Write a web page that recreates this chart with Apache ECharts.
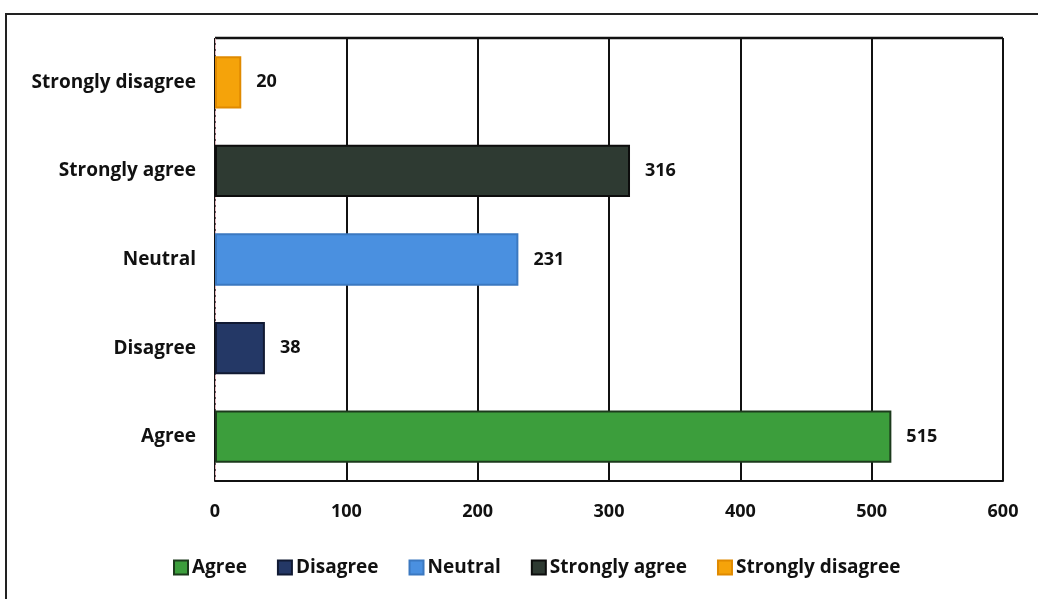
<!DOCTYPE html>
<html><head><meta charset="utf-8">
<script src="https://cdn.jsdelivr.net/npm/echarts@6/dist/echarts.min.js"></script>
<style>html,body{margin:0;padding:0;background:#fff}#c{width:1038px;height:599px}</style>
</head><body><div id="c"></div>
<script>
const categories = ['Agree', 'Disagree', 'Neutral', 'Strongly agree', 'Strongly disagree'];
const values = [515, 38, 231, 316, 20];
const xTicks = [0, 100, 200, 300, 400, 500, 600];
const colors = ['#3c9e3c', '#243866', '#4a90e0', '#2e3a32', '#f5a30a'];
const borders = ['#1c3a1c', '#111a33', '#3b78c0', '#0d0d0d', '#e08a00'];

const font = '"Open Sans", "Noto Sans", sans-serif';
const series = categories.map((name, i) => ({
  name: name,
  type: 'bar',
  stack: 'all',
  barWidth: '59%',
  data: categories.map((c, j) => j === i ? values[i] : null),
  itemStyle: { color: colors[i], borderColor: borders[i], borderWidth: 2 },
  label: {
    show: true, position: 'right', distance: 15,
    color: '#111', fontWeight: 'bold', fontSize: 18, fontFamily: font
  }
}));

const chart = echarts.init(document.getElementById('c'));
chart.setOption({
  animation: false,
  backgroundColor: '#fff',
  grid: { left: 215, right: 35, top: 38, bottom: 118, containLabel: false,
          show: false },
  xAxis: {
    type: 'value', min: 0, max: 600, interval: 100,
    axisLine: { show: true, lineStyle: { color: '#111', width: 2 } },
    axisTick: { show: false },
    splitLine: { show: true, lineStyle: { color: '#111', width: 2 } },
    axisLabel: { color: '#111', fontWeight: 'bold', fontSize: 18, fontFamily: font, margin: 22,
      formatter: v => xTicks.includes(v) ? String(v) : '' }
  },
  yAxis: {
    type: 'category', data: categories,
    axisLine: { show: true, lineStyle: { color: '#e6b8c0', width: 1, type: 'dashed' } },
    axisTick: { show: false },
    axisLabel: { color: '#111', fontWeight: 'bold', fontSize: 19, fontFamily: font, margin: 19 }
  },
  legend: {
    bottom: 17, left: 168,
    itemWidth: 14, itemHeight: 14, itemGap: 30,
    icon: 'rect',
    textStyle: { color: '#111', fontWeight: 'bold', fontSize: 19, fontFamily: font, padding: [0,0,0,-1] },
    data: categories
  },
  graphic: [
    { type: 'rect', shape: { x: 6, y: 14, width: 1040, height: 600 },
      style: { fill: null, stroke: '#222', lineWidth: 2 }, silent: true },
    { type: 'line', shape: { x1: 215, y1: 38, x2: 1003, y2: 38 },
      style: { stroke: '#111', lineWidth: 2.5 }, silent: true }
  ],
  series: series
});
</script></body></html>
